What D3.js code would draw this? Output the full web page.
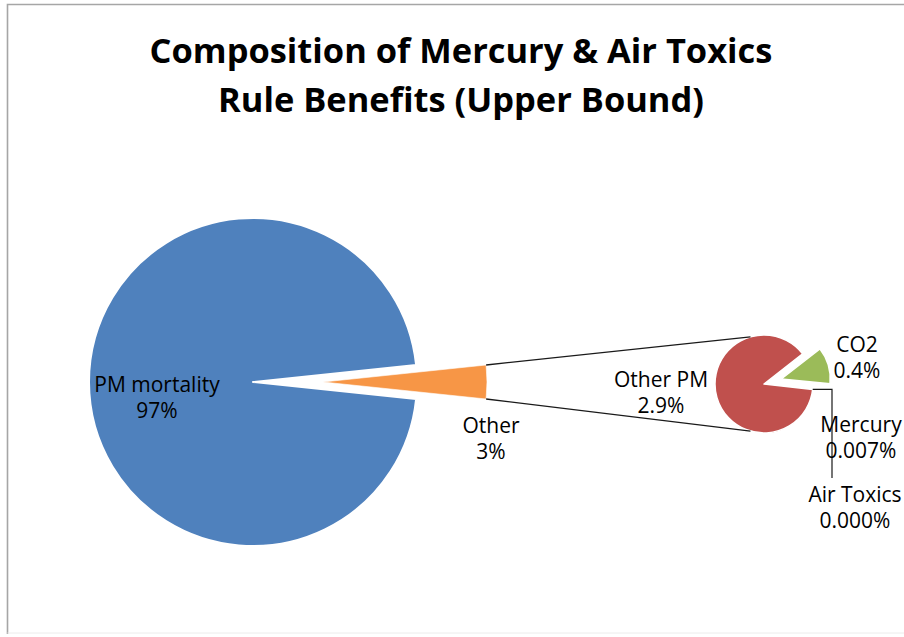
<!DOCTYPE html>
<html>
<head>
<meta charset="utf-8">
<script src="https://cdn.jsdelivr.net/npm/d3@7"></script>
<style>
  body { margin: 0; background: #fff; }
  text { font-family: "Open Sans", Lato, sans-serif; fill: #000; }
</style>
</head>
<body>
<script>
// data
var titleLines = ["Composition of Mercury & Air Toxics", "Rule Benefits (Upper Bound)"];
var mainLabels = ["PM mortality", "Other"];
var pmValue = 96.693;
var subLabels = ["CO2", "Mercury", "Air Toxics", "Other PM"];
var subValues = [0.4, 0.007, 0.0004, 2.9];
var subFormats = [".1%", ".3%", ".3%", ".1%"];

var mainColors = ["#4f81bd", "#f79646"],
    subColors = ["#9bbb59", "#8064a2", "#4bacc6", "#c0504d"];

var width = 904, height = 637;

var svg = d3.select("body").append("svg")
  .attr("width", width)
  .attr("height", height);

// chart border
svg.append("path")
  .attr("d", "M7.5,634 L7.5,4.5 L910,4.5")
  .attr("fill", "none")
  .attr("stroke", "#a6a6a6")
  .attr("stroke-width", 1.6);
svg.append("line")
  .attr("x1", 7.5).attr("x2", 910).attr("y1", 633).attr("y2", 633)
  .attr("stroke", "#ececec");

// title
var title = svg.selectAll("text.title").data(titleLines).enter()
  .append("text")
  .attr("class", "title")
  .attr("x", 461)
  .attr("y", function(d, i) { return 63 + i * 49; })
  .attr("text-anchor", "middle")
  .style("font-weight", "bold")
  .style("font-size", "30px")
  .text(function(d) { return d; });
// size the title so the first line is about as wide as in the picture
var tw = title.node().getComputedTextLength();
title.style("font-size", (30 * 623 / tw) + "px");

var otherValue = d3.sum(subValues);
var mainValues = [pmValue, otherValue];
var total = pmValue + otherValue;

// main pie
var mcx = 253, mcy = 382, mr = 164, explode = 70;
var otherAngle = otherValue / total * 2 * Math.PI;

var mainPie = d3.pie().sort(null)
  .startAngle(Math.PI / 2 + otherAngle / 2)
  .endAngle(Math.PI / 2 + otherAngle / 2 + 2 * Math.PI);
var mainArcs = mainPie(mainValues);
var mainArc = d3.arc().innerRadius(0).outerRadius(mr);

function offset(d, dist) {
  var mid = (d.startAngle + d.endAngle) / 2;
  return [Math.sin(mid) * dist, -Math.cos(mid) * dist];
}

var mainG = svg.append("g").attr("transform", "translate(" + mcx + "," + mcy + ")");
mainG.selectAll("path").data(mainArcs).enter()
  .append("path")
  .attr("d", mainArc)
  .attr("transform", function(d, i) {
    var o = i == 1 ? offset(d, explode) : [0, 0];
    return "translate(" + o[0] + "," + o[1] + ")";
  })
  .attr("fill", function(d, i) { return mainColors[i]; })
  .attr("stroke", "#fff")
  .attr("stroke-width", function(d, i) { return i == 1 ? 0.6 : 2; })
  .attr("stroke-linejoin", "round");

// secondary pie
var scx = 764, scy = 384, sr = 49, subExplode = 18;
var subStart = 52 * Math.PI / 180;
var subPie = d3.pie().sort(null)
  .startAngle(subStart)
  .endAngle(subStart + 2 * Math.PI);
var subArcs = subPie(subValues);
var subArc = d3.arc().innerRadius(0).outerRadius(sr);

var subG = svg.append("g").attr("transform", "translate(" + scx + "," + scy + ")");
subG.selectAll("path").data(subArcs).enter()
  .append("path")
  .attr("d", subArc)
  .attr("transform", function(d, i) {
    var o = i == 0 ? offset(d, subExplode) : [0, 0];
    return "translate(" + o[0] + "," + o[1] + ")";
  })
  .attr("fill", function(d, i) { return subColors[i]; })
  .attr("stroke", "#fff")
  .attr("stroke-width", 1.5)
  .attr("stroke-linejoin", "round");

// connector lines between the pies
var od = mainArcs[1], oo = offset(od, explode);
function ptOn(cx, cy, r, a) { return [cx + r * Math.sin(a), cy - r * Math.cos(a)]; }
var a1 = ptOn(mcx + oo[0], mcy + oo[1], mr, od.startAngle),
    a2 = ptOn(mcx + oo[0], mcy + oo[1], mr, od.endAngle),
    b1 = ptOn(scx, scy, sr, -16 * Math.PI / 180),
    b2 = ptOn(scx, scy, sr, 196 * Math.PI / 180);
svg.append("line").attr("x1", a1[0]).attr("y1", a1[1]).attr("x2", b1[0]).attr("y2", b1[1])
  .attr("stroke", "#1a1a1a").attr("stroke-width", 1.3);
svg.append("line").attr("x1", a2[0]).attr("y1", a2[1]).attr("x2", b2[0]).attr("y2", b2[1])
  .attr("stroke", "#1a1a1a").attr("stroke-width", 1.3);

// leader line for the tiny slices
var tiny = subArcs[2];
var lp = ptOn(scx, scy, sr, tiny.startAngle);
svg.append("path")
  .attr("d", "M" + lp[0] + "," + lp[1] + " L832," + lp[1] + " L832,478")
  .attr("fill", "none")
  .attr("stroke", "#1a1a1a")
  .attr("stroke-width", 1.2);

// labels
var pctMain = d3.format(".0%");
var labelPos = [
  {x: 157, y: 392, lines: [mainLabels[0], pctMain(pmValue / 100)]},
  {x: 491, y: 433, lines: [mainLabels[1], pctMain(otherValue / 100)]},
  {x: 857, y: 352, lines: [subLabels[0], d3.format(subFormats[0])(subValues[0] / 100)]},
  {x: 861, y: 432, lines: [subLabels[1], d3.format(subFormats[1])(subValues[1] / 100)]},
  {x: 855, y: 502, lines: [subLabels[2], d3.format(subFormats[2])(subValues[2] / 100)]},
  {x: 661, y: 387, lines: [subLabels[3], d3.format(subFormats[3])(subValues[3] / 100)]}
];

var lab = svg.selectAll("text.lab").data(labelPos).enter()
  .append("text")
  .attr("class", "lab")
  .attr("text-anchor", "middle")
  .style("font-size", "19px");
lab.selectAll("tspan").data(function(d) { return d.lines.map(function(t, i) { return {t: t, i: i, d: d}; }); })
  .enter().append("tspan")
  .attr("x", function(e) { return e.d.x; })
  .attr("y", function(e) { return e.d.y + e.i * 26; })
  .text(function(e) { return e.t; });
// match the "PM mortality" width of the picture
var lw = lab.select("tspan").node().getComputedTextLength();
lab.style("font-size", Math.min(21, 19 * 126 / lw) + "px");
</script>
</body>
</html>
